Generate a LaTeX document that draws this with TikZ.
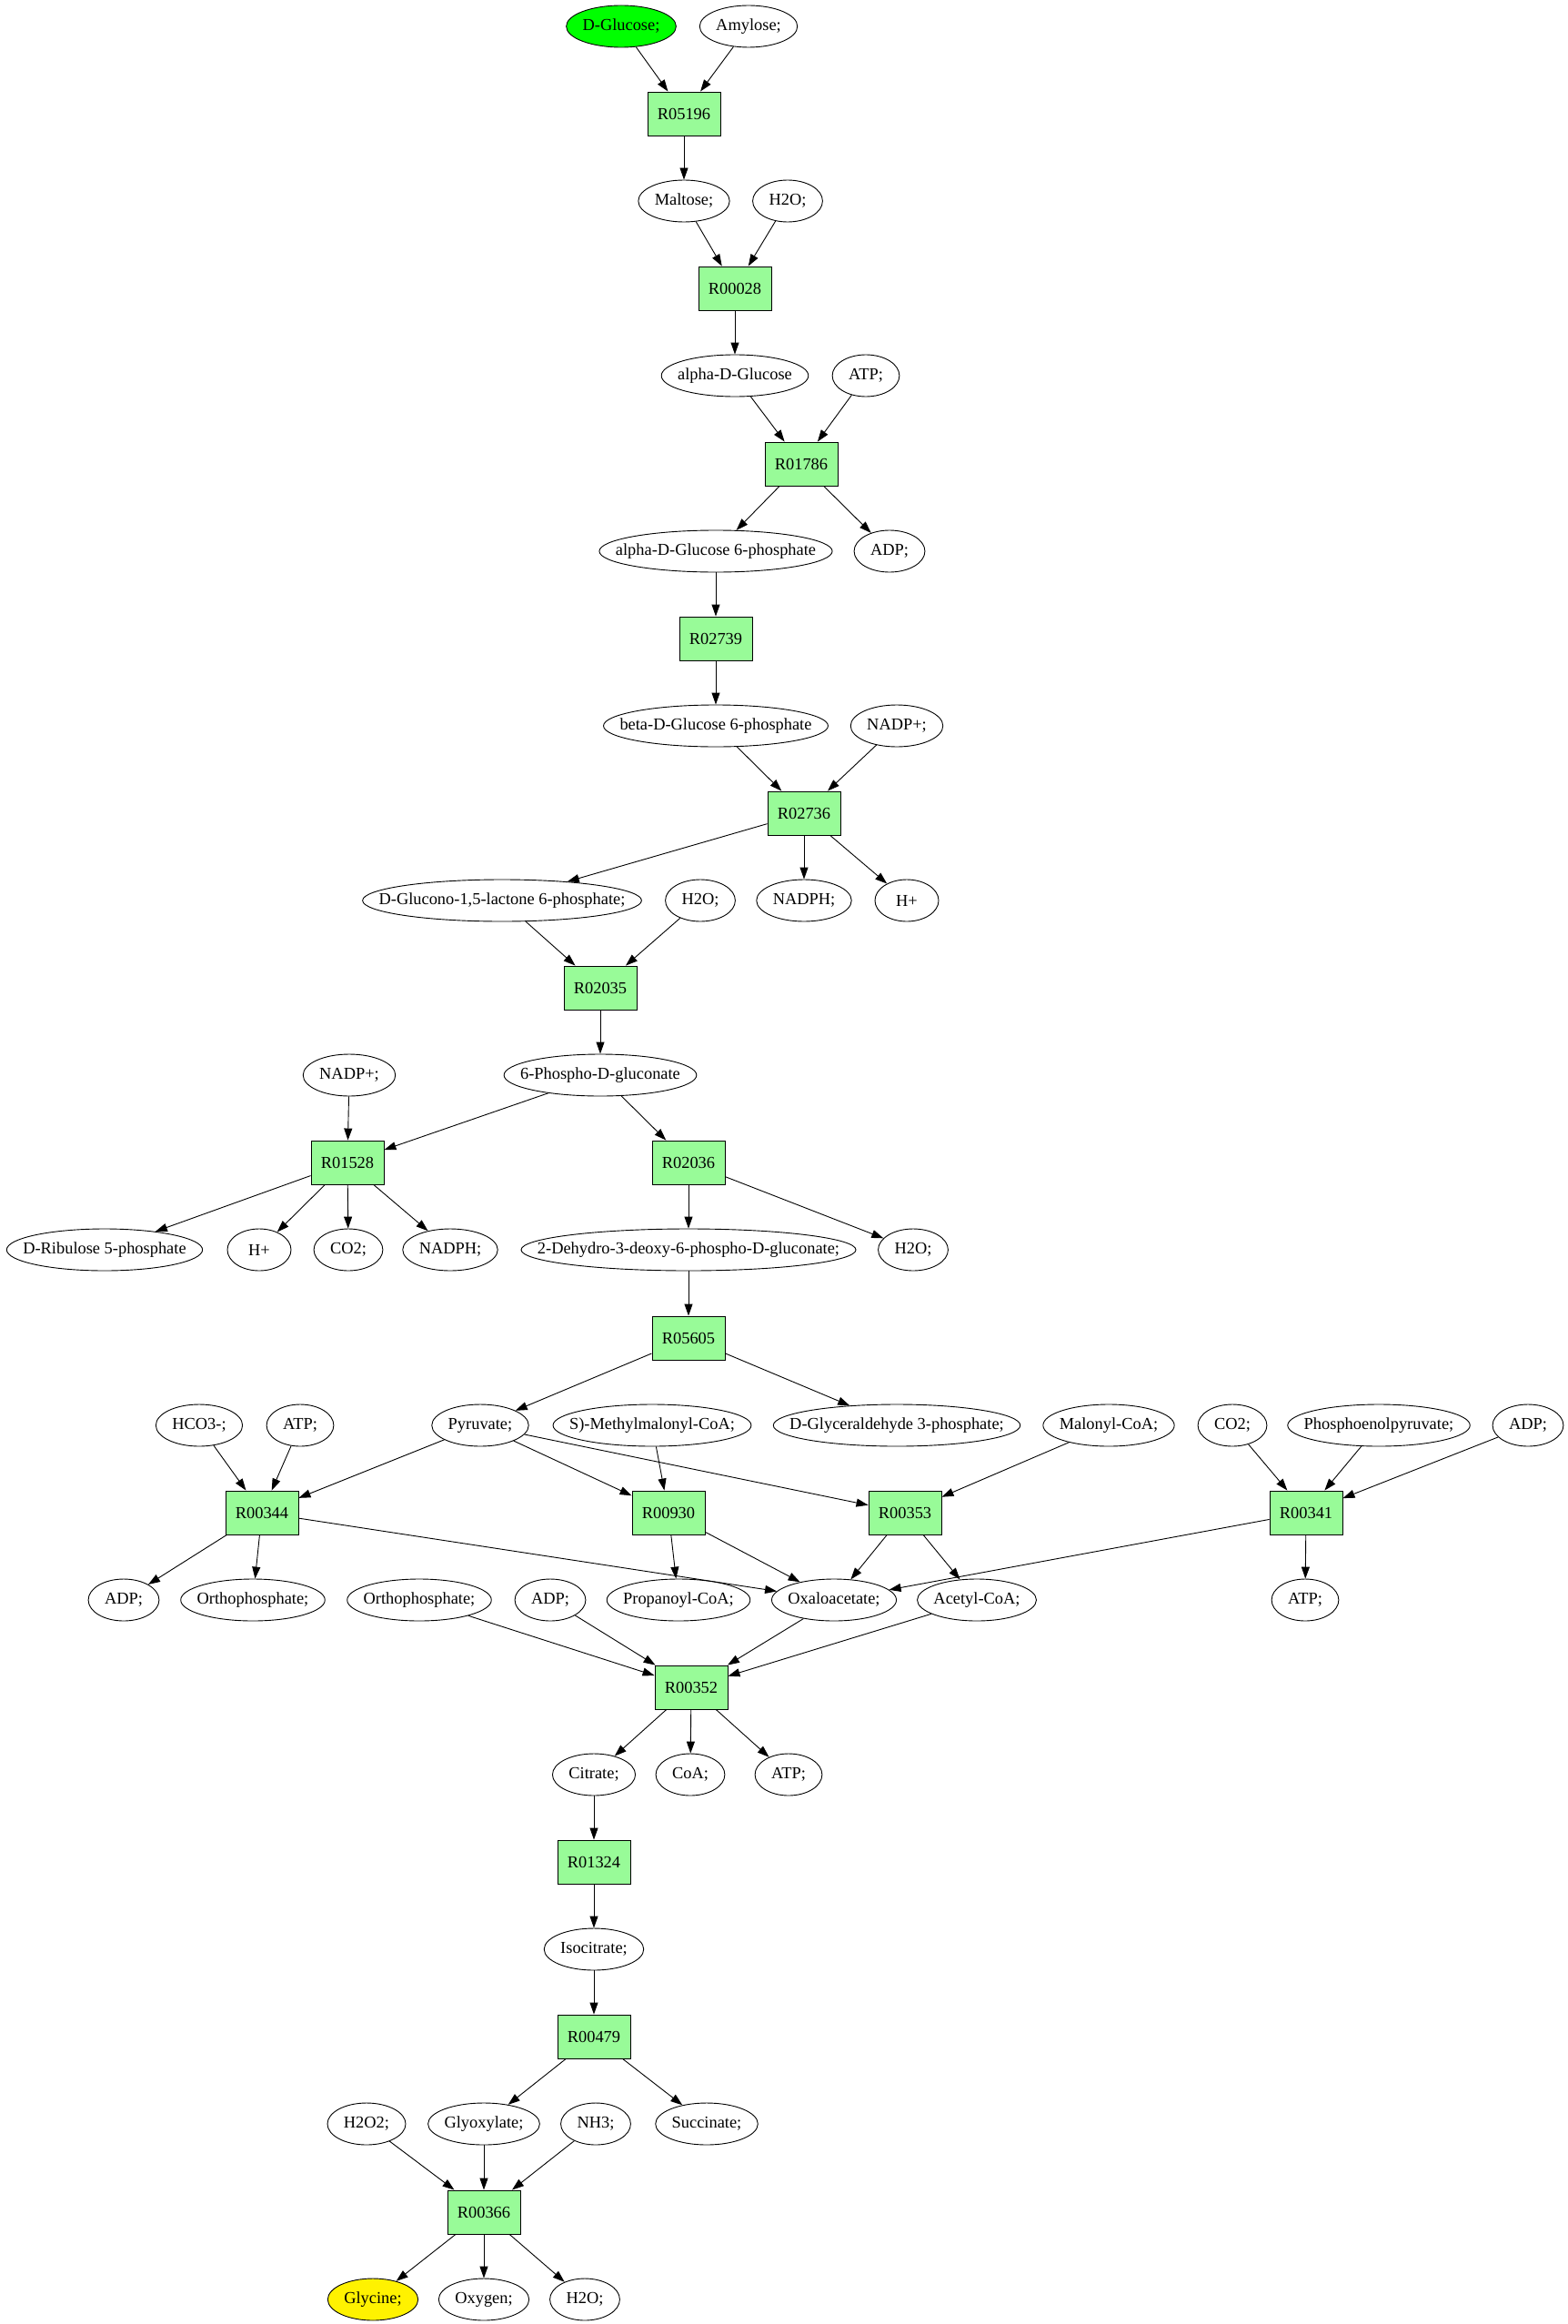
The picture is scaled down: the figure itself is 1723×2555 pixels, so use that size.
\documentclass[tikz,border=0pt]{standalone}
\usepackage{fontspec}
\setmainfont{Liberation Serif}
\usetikzlibrary{shapes.geometric,arrows.meta}
\definecolor{palegreen}{HTML}{98FB98}
\definecolor{brightgreen}{HTML}{00FF00}
\newcommand{\cname}[1]{\makebox[0.7071\width]{#1}}
\tikzset{
  met/.style = {ellipse, draw, line width=0.9pt, inner xsep=12.7pt, inner ysep=2pt, minimum width=70pt, minimum height=46pt},
  rxn/.style = {rectangle, draw, line width=0.9pt, fill=palegreen, inner sep=2pt, minimum width=80pt, minimum height=48pt},
  arr/.style = {-{Triangle[length=13pt,width=9pt]}, line width=0.9pt}
}
\begin{document}
\begin{tikzpicture}[x=1pt, y=-1pt, font=\fontsize{18.4}{22}\selectfont]
\useasboundingbox (0,0) rectangle (1723,2555);
\node [met, fill=brightgreen, at = {(683,29)}] (glc) {\cname{D-Glucose;}};
\node [met, at = {(823,29)}] (amy) {\cname{Amylose;}};
\node [rxn, at = {(752,125)}] (r05196) {R05196};
\node [met, at = {(752,221)}] (mal) {\cname{Maltose;}};
\node [met, at = {(866,221)}] (wa) {\cname{H2O;}};
\node [rxn, at = {(808,317)}] (r00028) {R00028};
\node [met, at = {(808,413)}] (adg) {\cname{alpha-D-Glucose}};
\node [met, at = {(952,413)}] (atpa) {\cname{ATP;}};
\node [rxn, at = {(881,510)}] (r01786) {R01786};
\node [met, at = {(787,606)}] (adgp) {\cname{alpha-D-Glucose 6-phosphate}};
\node [met, at = {(978,606)}] (adpa) {\cname{ADP;}};
\node [rxn, at = {(787,702)}] (r02739) {R02739};
\node [met, at = {(787,798)}] (bdgp) {\cname{beta-D-Glucose 6-phosphate}};
\node [met, at = {(986,798)}] (nadpa) {\cname{NADP+;}};
\node [rxn, at = {(884,894)}] (r02736) {R02736};
\node [met, at = {(552,990)}] (glp) {\cname{D-Glucono-1,5-lactone 6-phosphate;}};
\node [met, at = {(770,990)}] (wb) {\cname{H2O;}};
\node [met, at = {(884,990)}] (nadpha) {\cname{NADPH;}};
\node [met, at = {(997,990)}] (ha) {\cname{H+}};
\node [rxn, at = {(660,1086)}] (r02035) {R02035};
\node [met, at = {(384,1182)}] (nadpb) {\cname{NADP+;}};
\node [met, at = {(660,1182)}] (pgn) {\cname{6-Phospho-D-gluconate}};
\node [rxn, at = {(382,1278)}] (r01528) {R01528};
\node [rxn, at = {(757,1278)}] (r02036) {R02036};
\node [met, at = {(115,1374)}] (rup) {\cname{D-Ribulose 5-phosphate}};
\node [met, at = {(285,1374)}] (hb) {\cname{H+}};
\node [met, at = {(383,1374)}] (co2a) {\cname{CO2;}};
\node [met, at = {(495,1374)}] (nadphb) {\cname{NADPH;}};
\node [met, at = {(757,1374)}] (kdpg) {\cname{2-Dehydro-3-deoxy-6-phospho-D-gluconate;}};
\node [met, at = {(1004,1374)}] (wc) {\cname{H2O;}};
\node [rxn, at = {(757,1471)}] (r05605) {R05605};
\node [met, at = {(219,1567)}] (hco) {\cname{HCO3-;}};
\node [met, at = {(330,1567)}] (atpb) {\cname{ATP;}};
\node [met, at = {(528,1567)}] (pyr) {\cname{Pyruvate;}};
\node [met, at = {(717,1567)}] (mmc) {\cname{S)-Methylmalonyl-CoA;}};
\node [met, at = {(986,1567)}] (gap) {\cname{D-Glyceraldehyde 3-phosphate;}};
\node [met, at = {(1219,1567)}] (malc) {\cname{Malonyl-CoA;}};
\node [met, at = {(1355,1567)}] (co2b) {\cname{CO2;}};
\node [met, at = {(1516,1567)}] (pep) {\cname{Phosphoenolpyruvate;}};
\node [met, at = {(1680,1567)}] (adpb) {\cname{ADP;}};
\node [rxn, at = {(288,1663)}] (r00344) {R00344};
\node [rxn, at = {(735,1663)}] (r00930) {R00930};
\node [rxn, at = {(995,1663)}] (r00353) {R00353};
\node [rxn, at = {(1436,1663)}] (r00341) {R00341};
\node [met, at = {(136,1759)}] (adpc) {\cname{ADP;}};
\node [met, at = {(278,1759)}] (pia) {\cname{Orthophosphate;}};
\node [met, at = {(461,1759)}] (pib) {\cname{Orthophosphate;}};
\node [met, at = {(605,1759)}] (adpd) {\cname{ADP;}};
\node [met, at = {(746,1759)}] (ppc) {\cname{Propanoyl-CoA;}};
\node [met, at = {(917,1759)}] (oaa) {\cname{Oxaloacetate;}};
\node [met, at = {(1074,1759)}] (acc) {\cname{Acetyl-CoA;}};
\node [met, at = {(1435,1759)}] (atpc) {\cname{ATP;}};
\node [rxn, at = {(760,1855)}] (r00352) {R00352};
\node [met, at = {(653,1951)}] (cit) {\cname{Citrate;}};
\node [met, at = {(759,1951)}] (coa) {\cname{CoA;}};
\node [met, at = {(867,1951)}] (atpd) {\cname{ATP;}};
\node [rxn, at = {(653,2047)}] (r01324) {R01324};
\node [met, at = {(653,2143)}] (icit) {\cname{Isocitrate;}};
\node [rxn, at = {(653,2239)}] (r00479) {R00479};
\node [met, at = {(403,2335)}] (hoo) {\cname{H2O2;}};
\node [met, at = {(532,2335)}] (glx) {\cname{Glyoxylate;}};
\node [met, at = {(655,2335)}] (nh3) {\cname{NH3;}};
\node [met, at = {(777,2335)}] (suc) {\cname{Succinate;}};
\node [rxn, at = {(532,2432)}] (r00366) {R00366};
\node [met, fill=yellow, at = {(410,2528)}] (gly) {\cname{Glycine;}};
\node [met, at = {(532,2528)}] (oxy) {\cname{Oxygen;}};
\node [met, at = {(643,2528)}] (wd) {\cname{H2O;}};
\draw [arr] (glc) -- (r05196);
\draw [arr] (amy) -- (r05196);
\draw [arr] (r05196) -- (mal);
\draw [arr] (mal) -- (r00028);
\draw [arr] (wa) -- (r00028);
\draw [arr] (r00028) -- (adg);
\draw [arr] (adg) -- (r01786);
\draw [arr] (atpa) -- (r01786);
\draw [arr] (r01786) -- (adgp);
\draw [arr] (r01786) -- (adpa);
\draw [arr] (adgp) -- (r02739);
\draw [arr] (r02739) -- (bdgp);
\draw [arr] (bdgp) -- (r02736);
\draw [arr] (nadpa) -- (r02736);
\draw [arr] (r02736) -- (glp);
\draw [arr] (r02736) -- (nadpha);
\draw [arr] (r02736) -- (ha);
\draw [arr] (glp) -- (r02035);
\draw [arr] (wb) -- (r02035);
\draw [arr] (r02035) -- (pgn);
\draw [arr] (nadpb) -- (r01528);
\draw [arr] (pgn) -- (r01528);
\draw [arr] (pgn) -- (r02036);
\draw [arr] (r01528) -- (rup);
\draw [arr] (r01528) -- (hb);
\draw [arr] (r01528) -- (co2a);
\draw [arr] (r01528) -- (nadphb);
\draw [arr] (r02036) -- (kdpg);
\draw [arr] (r02036) -- (wc);
\draw [arr] (kdpg) -- (r05605);
\draw [arr] (r05605) -- (pyr);
\draw [arr] (r05605) -- (gap);
\draw [arr] (hco) -- (r00344);
\draw [arr] (atpb) -- (r00344);
\draw [arr] (pyr) -- (r00344);
\draw [arr] (pyr) -- (r00930);
\draw [arr] (mmc) -- (r00930);
\draw [arr] (pyr) -- (r00353);
\draw [arr] (malc) -- (r00353);
\draw [arr] (co2b) -- (r00341);
\draw [arr] (pep) -- (r00341);
\draw [arr] (adpb) -- (r00341);
\draw [arr] (r00344) -- (adpc);
\draw [arr] (r00344) -- (pia);
\draw [arr] (r00344) -- (oaa);
\draw [arr] (r00930) -- (ppc);
\draw [arr] (r00930) -- (oaa);
\draw [arr] (r00353) -- (oaa);
\draw [arr] (r00353) -- (acc);
\draw [arr] (r00341) -- (oaa);
\draw [arr] (r00341) -- (atpc);
\draw [arr] (pib) -- (r00352);
\draw [arr] (adpd) -- (r00352);
\draw [arr] (oaa) -- (r00352);
\draw [arr] (acc) -- (r00352);
\draw [arr] (r00352) -- (cit);
\draw [arr] (r00352) -- (coa);
\draw [arr] (r00352) -- (atpd);
\draw [arr] (cit) -- (r01324);
\draw [arr] (r01324) -- (icit);
\draw [arr] (icit) -- (r00479);
\draw [arr] (r00479) -- (glx);
\draw [arr] (r00479) -- (suc);
\draw [arr] (hoo) -- (r00366);
\draw [arr] (glx) -- (r00366);
\draw [arr] (nh3) -- (r00366);
\draw [arr] (r00366) -- (gly);
\draw [arr] (r00366) -- (oxy);
\draw [arr] (r00366) -- (wd);
\end{tikzpicture}
\end{document}
